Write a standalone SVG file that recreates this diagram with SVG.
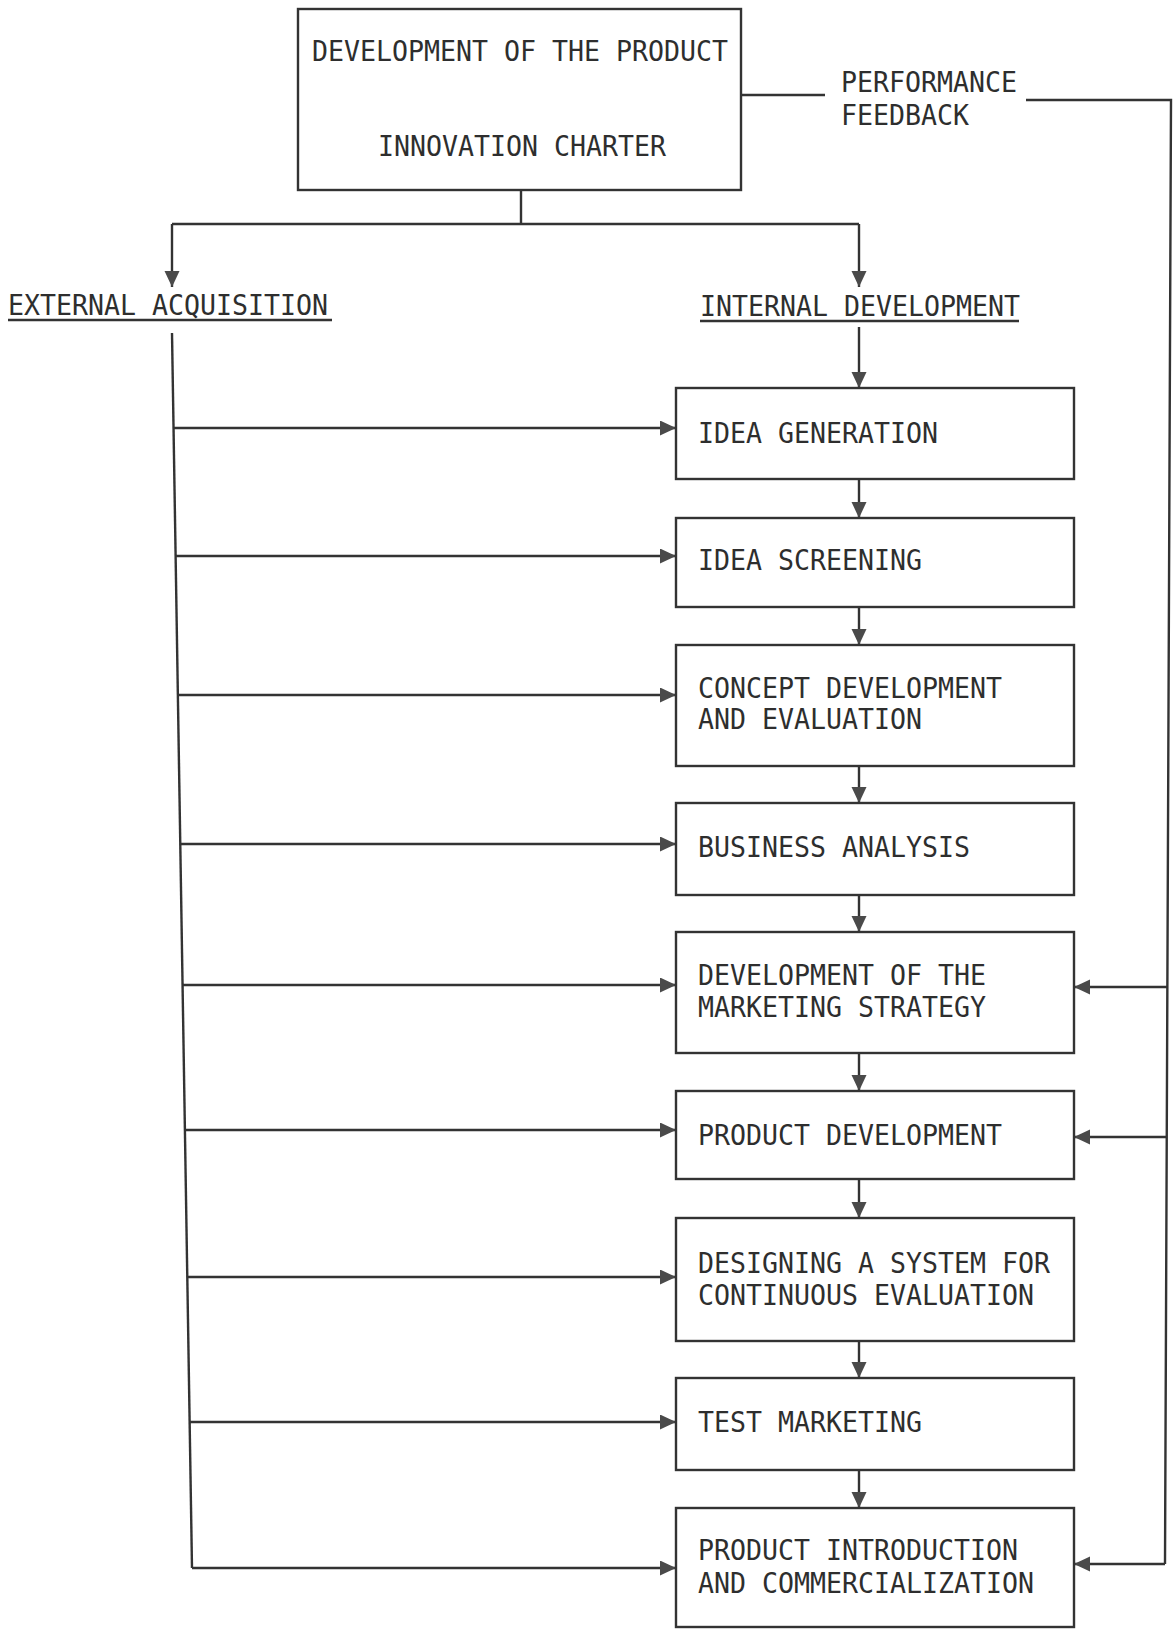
<svg xmlns="http://www.w3.org/2000/svg" width="1175" height="1631" viewBox="0 0 1175 1631">
  <style>
    .box { fill: #ffffff; stroke: #333333; stroke-width: 2.4; }
    .wire { fill: none; stroke: #333333; stroke-width: 2.4; }
    .flow { fill: none; stroke: #333333; stroke-width: 2.4; marker-end: url(#head); }
    .lbl { font-family: "DejaVu Sans Mono", "Liberation Mono", monospace; font-size: 28px; fill: #2e2e2e; }
  </style>
  <defs>
    <marker id="head" markerUnits="userSpaceOnUse" markerWidth="18" markerHeight="16" refX="16" refY="7.5" orient="auto">
      <path d="M0,0 L16,7.5 L0,15 Z" fill="#4a4a4a"/>
    </marker>
  </defs>
  <rect width="1175" height="1631" fill="#ffffff"/>

  <!-- connectors -->
  <g id="connectors">
    <!-- charter split -->
    <path class="wire" d="M521,190 V224 M172,224 H859"/>
    <path class="flow" d="M172,224 V287"/>
    <path class="flow" d="M859,224 V287"/>
    <!-- internal development chain -->
    <path class="flow" d="M859,327 V388"/>
    <path class="flow" d="M859,479 V518"/>
    <path class="flow" d="M859,607 V645"/>
    <path class="flow" d="M859,766 V803"/>
    <path class="flow" d="M859,895 V932"/>
    <path class="flow" d="M859,1053 V1091"/>
    <path class="flow" d="M859,1179 V1218"/>
    <path class="flow" d="M859,1341 V1378"/>
    <path class="flow" d="M859,1470 V1508"/>
    <!-- external acquisition trunk and branches -->
    <path class="wire" d="M172,333 L192,1568"/>
    <path class="flow" d="M173.5,428 H676"/>
    <path class="flow" d="M175.6,556 H676"/>
    <path class="flow" d="M177.9,695 H676"/>
    <path class="flow" d="M180.3,844 H676"/>
    <path class="flow" d="M182.6,985 H676"/>
    <path class="flow" d="M184.9,1130 H676"/>
    <path class="flow" d="M187.3,1277 H676"/>
    <path class="flow" d="M189.6,1422 H676"/>
    <path class="flow" d="M192,1568 H676"/>
    <!-- performance feedback loop -->
    <path class="wire" d="M741,95 H825"/>
    <path class="wire" d="M1026,100 H1171 L1165,1564"/>
    <path class="flow" d="M1167.4,987 H1074"/>
    <path class="flow" d="M1166.8,1137 H1074"/>
    <path class="flow" d="M1165,1564 H1074"/>
  </g>

  <g id="charter">
    <rect class="box" x="298" y="9" width="443" height="181"/>
    <text class="lbl" x="312" y="61" textLength="416" lengthAdjust="spacingAndGlyphs">DEVELOPMENT OF THE PRODUCT</text>
    <text class="lbl" x="378" y="156" textLength="288" lengthAdjust="spacingAndGlyphs">INNOVATION CHARTER</text>
  </g>

  <g id="feedback-label">
    <text class="lbl" x="841" y="92" textLength="176" lengthAdjust="spacingAndGlyphs">PERFORMANCE</text>
    <text class="lbl" x="841" y="125" textLength="128" lengthAdjust="spacingAndGlyphs">FEEDBACK</text>
  </g>

  <g id="external">
    <text class="lbl" x="8" y="315" textLength="320" lengthAdjust="spacingAndGlyphs">EXTERNAL ACQUISITION</text>
    <path class="wire" d="M8,320 H332"/>
  </g>

  <g id="internal">
    <text class="lbl" x="700" y="316" textLength="320" lengthAdjust="spacingAndGlyphs">INTERNAL DEVELOPMENT</text>
    <path class="wire" d="M700,321 H1019"/>
  </g>

  <g id="idea-generation">
    <rect class="box" x="676" y="388" width="398" height="91"/>
    <text class="lbl" x="698" y="443" textLength="240" lengthAdjust="spacingAndGlyphs">IDEA GENERATION</text>
  </g>

  <g id="idea-screening">
    <rect class="box" x="676" y="518" width="398" height="89"/>
    <text class="lbl" x="698" y="570" textLength="224" lengthAdjust="spacingAndGlyphs">IDEA SCREENING</text>
  </g>

  <g id="concept-development">
    <rect class="box" x="676" y="645" width="398" height="121"/>
    <text class="lbl" x="698" y="698" textLength="304" lengthAdjust="spacingAndGlyphs">CONCEPT DEVELOPMENT</text>
    <text class="lbl" x="698" y="729" textLength="224" lengthAdjust="spacingAndGlyphs">AND EVALUATION</text>
  </g>

  <g id="business-analysis">
    <rect class="box" x="676" y="803" width="398" height="92"/>
    <text class="lbl" x="698" y="857" textLength="272" lengthAdjust="spacingAndGlyphs">BUSINESS ANALYSIS</text>
  </g>

  <g id="marketing-strategy">
    <rect class="box" x="676" y="932" width="398" height="121"/>
    <text class="lbl" x="698" y="985" textLength="288" lengthAdjust="spacingAndGlyphs">DEVELOPMENT OF THE</text>
    <text class="lbl" x="698" y="1017" textLength="288" lengthAdjust="spacingAndGlyphs">MARKETING STRATEGY</text>
  </g>

  <g id="product-development">
    <rect class="box" x="676" y="1091" width="398" height="88"/>
    <text class="lbl" x="698" y="1145" textLength="304" lengthAdjust="spacingAndGlyphs">PRODUCT DEVELOPMENT</text>
  </g>

  <g id="evaluation-system">
    <rect class="box" x="676" y="1218" width="398" height="123"/>
    <text class="lbl" x="698" y="1273" textLength="352" lengthAdjust="spacingAndGlyphs">DESIGNING A SYSTEM FOR</text>
    <text class="lbl" x="698" y="1305" textLength="336" lengthAdjust="spacingAndGlyphs">CONTINUOUS EVALUATION</text>
  </g>

  <g id="test-marketing">
    <rect class="box" x="676" y="1378" width="398" height="92"/>
    <text class="lbl" x="698" y="1432" textLength="224" lengthAdjust="spacingAndGlyphs">TEST MARKETING</text>
  </g>

  <g id="introduction">
    <rect class="box" x="676" y="1508" width="398" height="119"/>
    <text class="lbl" x="698" y="1560" textLength="320" lengthAdjust="spacingAndGlyphs">PRODUCT INTRODUCTION</text>
    <text class="lbl" x="698" y="1593" textLength="336" lengthAdjust="spacingAndGlyphs">AND COMMERCIALIZATION</text>
  </g>
</svg>
